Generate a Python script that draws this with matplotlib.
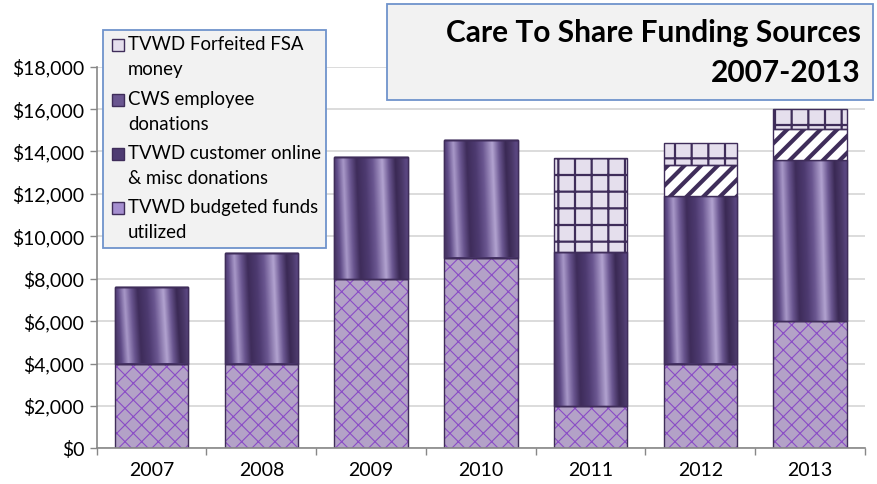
import numpy as np
import matplotlib
matplotlib.use("Agg")
import matplotlib.pyplot as plt
from matplotlib.colors import LinearSegmentedColormap
from matplotlib.patches import Rectangle
from matplotlib.ticker import FuncFormatter, MultipleLocator, FixedLocator

years = ["2007", "2008", "2009", "2010", "2011", "2012", "2013"]
budgeted = [4000, 4000, 8000, 9000, 2000, 4000, 6000]
customer = [3630, 5200, 5750, 5550, 7250, 7900, 7600]
cws = [0, 0, 0, 0, 0, 1480, 1480]
fsa = [0, 0, 0, 0, 4450, 1020, 940]
series_labels = ["TVWD Forfeited FSA\nmoney", "CWS employee\ndonations",
                 "TVWD customer online\n& misc donations", "TVWD budgeted funds\nutilized"]
title_lines = ["Care To Share Funding Sources", "2007-2013"]

FONT = ["Lato", "DejaVu Sans"]
plt.rcParams['font.family'] = FONT

W, H = 878, 484
fig = plt.figure(figsize=(W / 100, H / 100), dpi=100)
ax = fig.add_axes([96.7 / W, 1 - 448.3 / H, (865 - 96.7) / W, (448.3 - 66.7) / H])

DARK = "#3F2D5A"
x = np.arange(len(years))
bw = 0.67
b1 = np.array(budgeted, float)
b2 = b1 + np.array(customer, float)
b3 = b2 + np.array(cws, float)

def hatched_bar(bottom, vals, fc, hatch, hc, hlw, zo):
    plt.rcParams['hatch.linewidth'] = hlw
    bars = ax.bar(x, vals, bw, bottom=bottom, color=fc, edgecolor=hc, hatch=hatch,
                  linewidth=0, zorder=zo)
    for p in bars:
        if hasattr(p, "set_hatch_linewidth"):
            p.set_hatch_linewidth(hlw)
    ax.bar(x, vals, bw, bottom=bottom, fill=False, edgecolor=DARK, linewidth=1.0, zorder=zo + 0.5)
    return bars

# budgeted funds
hatched_bar(0, budgeted, "#B3A2C7", "xx", "#8A4CC6", 0.8, 2)

# customer donations: gradient filled bars
cbars = ax.bar(x, customer, bw, bottom=b1, color="#4E3B72", edgecolor=DARK, linewidth=1.0, zorder=2)
cmap = LinearSegmentedColormap.from_list("streak", [
    (0.00, "#4A3868"), (0.06, "#5E4A86"), (0.15, "#A898C8"), (0.24, "#6A5690"),
    (0.33, "#3E2C5A"), (0.45, "#4D3A70"), (0.55, "#6A5690"), (0.68, "#B2A3D0"),
    (0.77, "#6A5690"), (0.86, "#3A2954"), (0.94, "#4A3868"), (1.00, "#5A4680")])
ny, nx = 60, 200
gx = np.linspace(0, 1, nx)[None, :]
gy = np.linspace(0, 1, ny)[:, None]
grad = np.clip(gx + 0.06 * (gy - 0.5), 0, 1)
for p in cbars:
    x0, y0, w, h = p.get_x(), p.get_y(), p.get_width(), p.get_height()
    im = ax.imshow(grad, cmap=cmap, vmin=0, vmax=1, extent=(x0, x0 + w, y0, y0 + h),
                   origin="lower", aspect="auto", zorder=2.2, interpolation="bilinear")
    im.set_clip_path(p)
    ax.add_patch(Rectangle((x0, y0), w, h, fill=False, edgecolor=DARK, lw=1.0, zorder=2.5))

# CWS
hatched_bar(b2, cws, "white", "//", DARK, 3.0, 3)
# FSA
hatched_bar(b3, fsa, "#E5DFED", "+", DARK, 1.6, 3)

ax.set_xlim(-0.5, 6.5)
ax.set_ylim(0, 18000)
ax.set_aspect("auto")
ax.yaxis.set_major_locator(MultipleLocator(2000))
ax.yaxis.set_major_formatter(FuncFormatter(lambda v, p: f"${v:,.0f}"))
ax.set_xticks(x)
ax.set_xticklabels(years)
ax.xaxis.set_minor_locator(FixedLocator(np.arange(-0.5, 7, 1.0)))
ax.tick_params(axis="x", which="major", length=0, pad=10, labelsize=14)
ax.tick_params(axis="x", which="minor", length=5, color="#878787", width=1)
ax.tick_params(axis="y", length=5, color="#878787", width=1, labelsize=14, pad=4)
ax.yaxis.grid(True, color="#D9D9D9", lw=1.3)
ax.set_axisbelow(True)
for s in ["top", "right"]:
    ax.spines[s].set_visible(False)
for s in ["left", "bottom"]:
    ax.spines[s].set_color("#878787")
    ax.spines[s].set_linewidth(1.2)

# Title box
def fx(px): return px / W
def fy(py): return 1 - py / H
fig.add_artist(Rectangle((fx(387), fy(100)), fx(873) - fx(387), fy(4) - fy(100),
                         transform=fig.transFigure, facecolor="#F2F2F2",
                         edgecolor="#6F93CC", lw=1.3, zorder=5))
fig.text(fx(861), fy(33), title_lines[0], ha="right", va="center", fontsize=21.5,
         fontweight="bold", zorder=6)
fig.text(fx(861), fy(73), title_lines[1], ha="right", va="center", fontsize=21.5,
         fontweight="bold", zorder=6)

# Legend (manual)
fig.add_artist(Rectangle((fx(103), fy(248)), fx(326) - fx(103), fy(30) - fy(248),
                         transform=fig.transFigure, facecolor="#F2F2F2",
                         edgecolor="#6F93CC", lw=1.3, zorder=5))
handle_styles = [
    dict(facecolor="#E5DFED"),
    dict(facecolor="#6A5690"),
    dict(facecolor="#4E3B72"),
    dict(facecolor="#A58FD0"),
]
row_y = [45, 100, 154, 208]
for i, lab in enumerate(series_labels):
    y = row_y[i]
    ax_h = Rectangle((fx(112), fy(y + 6)), fx(124) - fx(112), fy(y - 6) - fy(y + 6),
                     transform=fig.transFigure, edgecolor=DARK, lw=1.0, zorder=6,
                     **handle_styles[i])
    fig.add_artist(ax_h)
    l1, l2 = lab.split("\n")
    fig.text(fx(128), fy(y), l1, ha="left", va="center", fontsize=13.4, zorder=6)
    fig.text(fx(128), fy(y + 24.5), l2, ha="left", va="center", fontsize=13.4, zorder=6)

fig.savefig("out.png", dpi=100)
